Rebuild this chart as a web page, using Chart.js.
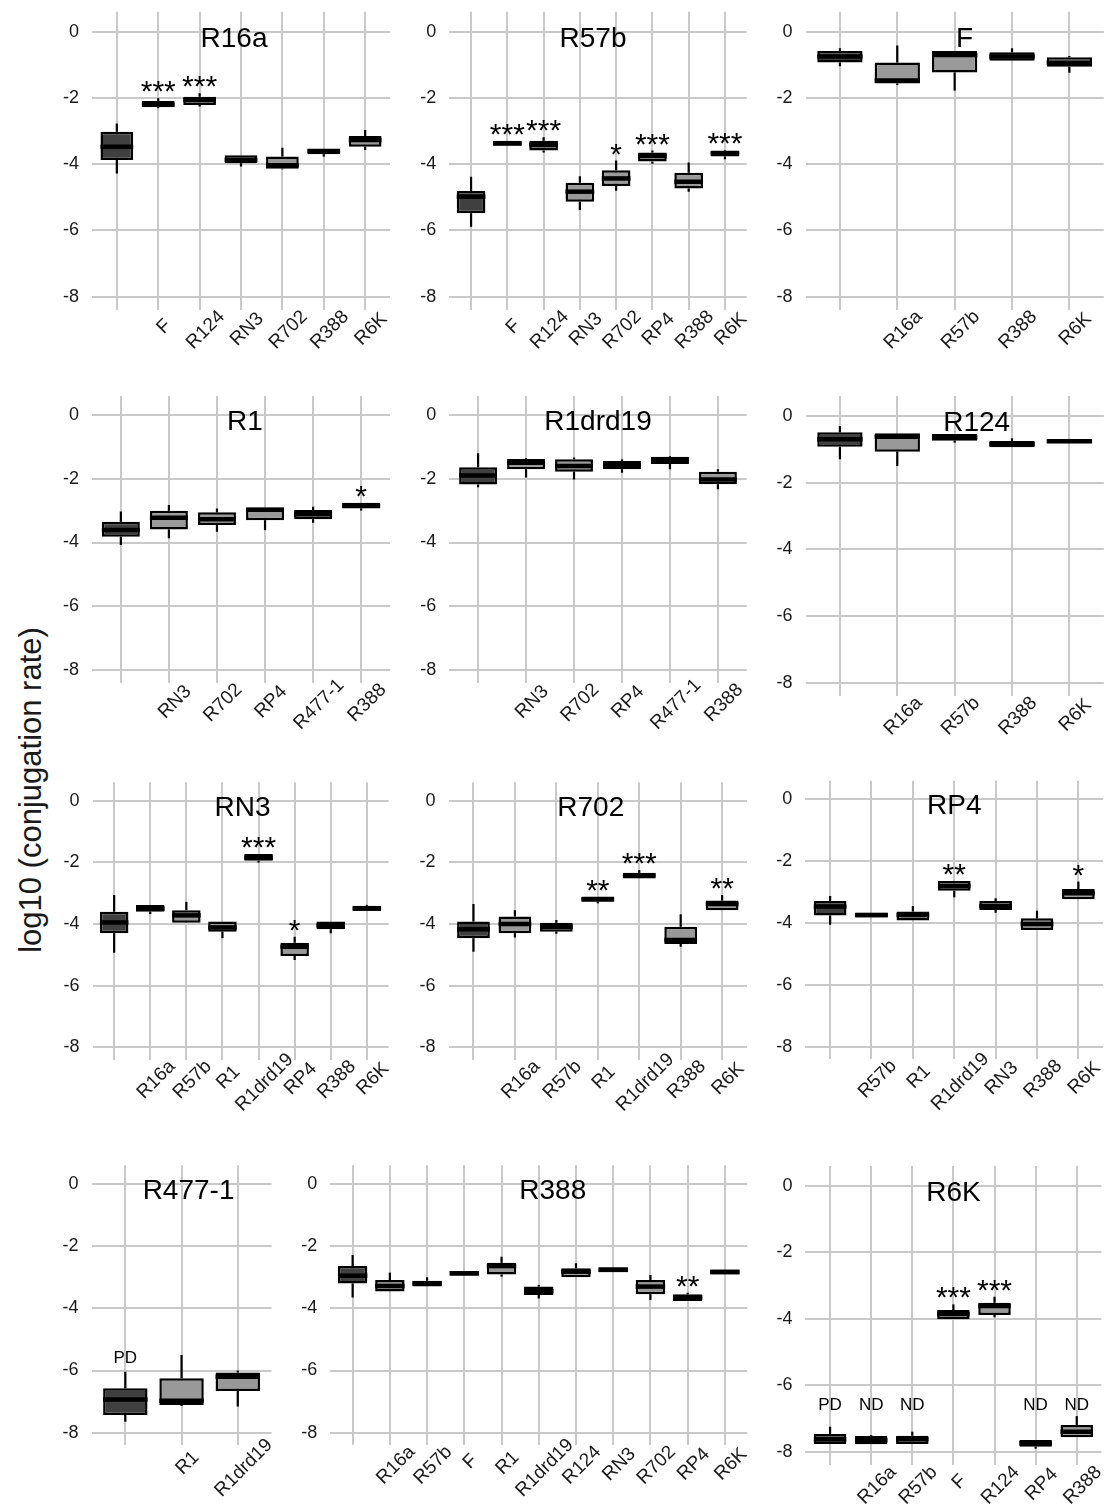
<!DOCTYPE html>
<html><head><meta charset="utf-8">
<script src="https://cdn.jsdelivr.net/npm/chart.js@4.4.1/dist/chart.umd.min.js"></script>
<style>
html,body{margin:0;padding:0;background:#fff;}
#wrap{position:relative;width:1105px;height:1504px;overflow:hidden;font-family:"Liberation Sans",Arial,sans-serif;}
canvas{position:absolute;}
#ylab{position:absolute;left:31px;top:790px;transform:translate(-50%,-50%) rotate(-90deg);font-size:31px;white-space:nowrap;color:#1a1a1a;}
</style></head><body><div id="wrap"><div id="ylab">log10 (conjugation rate)</div></div>
<script>
// ---------- data (log10 conjugation rate: whisker min, Q1, median, Q3, whisker max) ----------
const yTicks = [-8, -6, -4, -2, 0];

const r16aLabels = ["", "F", "R124", "RN3", "R702", "R388", "R6K"];
const r16aMin = [-4.28, -2.31, -2.26, -4.07, -4.15, -3.77, -3.57];
const r16aQ1  = [-3.87, -2.28, -2.21, -3.97, -4.14, -3.70, -3.47];
const r16aMed = [-3.47, -2.20, -2.06, -3.87, -4.03, -3.60, -3.27];
const r16aQ3  = [-3.02, -2.09, -1.96, -3.73, -3.77, -3.55, -3.15];
const r16aMax = [-2.77, -2.01, -1.86, -3.73, -3.50, -3.55, -2.97];
const r16aSig = ["", "***", "***", "", "", "", ""];

const r57bLabels = ["", "F", "R124", "RN3", "R702", "RP4", "R388", "R6K"];
const r57bMin = [-5.89, -3.44, -3.65, -5.38, -4.80, -3.99, -4.83, -3.85];
const r57bQ1  = [-5.48, -3.44, -3.59, -5.13, -4.66, -3.92, -4.73, -3.77];
const r57bMed = [-4.98, -3.37, -3.42, -4.83, -4.43, -3.75, -4.53, -3.67];
const r57bQ3  = [-4.81, -3.29, -3.29, -4.56, -4.18, -3.65, -4.26, -3.59];
const r57bMax = [-4.38, -3.29, -3.19, -4.36, -3.89, -3.59, -3.95, -3.57];
const r57bSig = ["", "***", "***", "", "*", "***", "", "***"];

const fLabels = ["", "R16a", "R57b", "R388", "R6K"];
const fMin = [-1.04, -1.61, -1.78, -0.88, -1.24];
const fQ1  = [-0.93, -1.56, -1.23, -0.88, -1.06];
const fMed = [-0.75, -1.47, -0.70, -0.75, -0.94];
const fQ3  = [-0.58, -0.93, -0.58, -0.62, -0.77];
const fMax = [-0.50, -0.42, -0.58, -0.50, -0.73];
const fSig = ["", "", "", "", ""];

const r1Labels = ["", "RN3", "R702", "RP4", "R477-1", "R388"];
const r1Min = [-4.08, -3.87, -3.66, -3.61, -3.38, -3.00];
const r1Q1  = [-3.82, -3.59, -3.45, -3.30, -3.27, -2.93];
const r1Med = [-3.61, -3.22, -3.27, -2.97, -3.11, -2.85];
const r1Q3  = [-3.35, -3.00, -3.05, -2.90, -2.98, -2.75];
const r1Max = [-3.03, -2.82, -2.93, -2.90, -2.88, -2.75];
const r1Sig = ["", "", "", "", "", "*"];

const r1drd19Labels = ["", "RN3", "R702", "RP4", "R477-1", "R388"];
const r1drd19Min = [-2.27, -1.96, -2.02, -1.81, -1.70, -2.33];
const r1drd19Q1  = [-2.18, -1.70, -1.78, -1.70, -1.54, -2.17];
const r1drd19Med = [-1.90, -1.50, -1.60, -1.57, -1.43, -2.02];
const r1drd19Q3  = [-1.64, -1.38, -1.39, -1.44, -1.31, -1.78];
const r1drd19Max = [-1.20, -1.36, -1.33, -1.39, -1.29, -1.70];
const r1drd19Sig = ["", "", "", "", "", ""];

const r124Labels = ["", "R16a", "R57b", "R388", "R6K"];
const r124Min = [-1.30, -1.50, -0.80, -0.94, -0.82];
const r124Q1  = [-0.92, -1.07, -0.74, -0.94, -0.82];
const r124Med = [-0.70, -0.62, -0.64, -0.85, -0.76];
const r124Q3  = [-0.49, -0.52, -0.54, -0.75, -0.70];
const r124Max = [-0.30, -0.52, -0.54, -0.67, -0.70];
const r124Sig = ["", "", "", "", ""];

const rn3Labels = ["", "R16a", "R57b", "R1", "R1drd19", "RP4", "R388", "R6K"];
const rn3Min = [-4.93, -3.68, -3.96, -4.46, -2.01, -5.17, -4.30, -3.57];
const rn3Q1  = [-4.30, -3.60, -3.96, -4.25, -1.95, -5.04, -4.17, -3.57];
const rn3Med = [-3.95, -3.50, -3.72, -4.11, -1.85, -4.74, -4.05, -3.50];
const rn3Q3  = [-3.60, -3.38, -3.55, -3.92, -1.73, -4.61, -3.92, -3.41];
const rn3Max = [-3.06, -3.38, -3.28, -3.92, -1.73, -4.41, -3.92, -3.38];
const rn3Sig = ["", "", "", "", "***", "*", "", ""];

const r702Labels = ["", "R16a", "R57b", "R1", "R1drd19", "R388", "R6K"];
const r702Min = [-4.90, -4.44, -4.32, -3.33, -2.52, -4.74, -3.55];
const r702Q1  = [-4.46, -4.30, -4.25, -3.28, -2.52, -4.65, -3.55];
const r702Med = [-4.17, -4.00, -4.09, -3.20, -2.43, -4.52, -3.35];
const r702Q3  = [-3.92, -3.76, -3.96, -3.11, -2.34, -4.09, -3.24];
const r702Max = [-3.35, -3.55, -3.87, -3.11, -2.25, -3.68, -3.06];
const r702Sig = ["", "", "", "**", "***", "", "**"];

const rp4Labels = ["", "R57b", "R1", "R1drd19", "RN3", "R388", "R6K"];
const rp4Min = [-4.06, -3.82, -3.92, -3.17, -3.67, -4.23, -3.23];
const rp4Q1  = [-3.76, -3.82, -3.92, -2.96, -3.58, -4.23, -3.23];
const rp4Med = [-3.47, -3.74, -3.74, -2.80, -3.45, -4.03, -3.04];
const rp4Q3  = [-3.29, -3.67, -3.63, -2.64, -3.29, -3.85, -2.90];
const rp4Max = [-3.13, -3.67, -3.45, -2.64, -3.20, -3.60, -2.66];
const rp4Sig = ["", "", "", "**", "", "", "*"];

const r477Labels = ["", "R1", "R1drd19"];
const r477Min = [-7.65, -7.14, -7.16];
const r477Q1  = [-7.43, -7.11, -6.66];
const r477Med = [-6.93, -6.97, -6.20];
const r477Q3  = [-6.57, -6.25, -6.06];
const r477Max = [-6.04, -5.50, -6.00];
const r477Sig = ["", "", ""];
const r477Note = ["PD", "", ""];
const r477NoteY = -5.55;

const r388Labels = ["", "R16a", "R57b", "F", "R1", "R1drd19", "R124", "RN3", "R702", "RP4", "R6K"];
const r388Min = [-3.65, -3.46, -3.30, -2.95, -2.98, -3.68, -3.00, -2.84, -3.73, -3.76, -2.91];
const r388Q1  = [-3.20, -3.46, -3.30, -2.95, -2.91, -3.57, -3.00, -2.84, -3.55, -3.76, -2.91];
const r388Med = [-2.95, -3.28, -3.20, -2.87, -2.64, -3.45, -2.82, -2.76, -3.30, -3.65, -2.83];
const r388Q3  = [-2.64, -3.09, -3.11, -2.80, -2.53, -3.30, -2.71, -2.68, -3.09, -3.55, -2.75];
const r388Max = [-2.28, -2.85, -3.00, -2.80, -2.34, -3.25, -2.55, -2.68, -2.93, -3.50, -2.75];
const r388Sig = ["", "", "", "", "", "", "", "", "", "**", ""];

const r6kLabels = ["", "R16a", "R57b", "F", "R124", "RP4", "R388"];
const r6kMin = [-7.76, -7.77, -7.76, -4.01, -3.95, -7.90, -7.56];
const r6kQ1  = [-7.76, -7.77, -7.76, -4.01, -3.88, -7.84, -7.56];
const r6kMed = [-7.62, -7.65, -7.62, -3.85, -3.61, -7.74, -7.39];
const r6kQ3  = [-7.46, -7.52, -7.51, -3.73, -3.51, -7.64, -7.19];
const r6kMax = [-7.24, -7.49, -7.39, -3.56, -3.33, -7.64, -6.92];
const r6kSig = ["", "", "", "***", "***", "", ""];
const r6kNote = ["PD", "ND", "ND", "", "", "ND", "ND"];
const r6kNoteY = -6.55;

// ---------- panels (built from the arrays above) ----------
const panels = [
  {title:"R16a", labels:r16aLabels, min:r16aMin, q1:r16aQ1, med:r16aMed, q3:r16aQ3, max:r16aMax, sig:r16aSig},
  {title:"R57b", labels:r57bLabels, min:r57bMin, q1:r57bQ1, med:r57bMed, q3:r57bQ3, max:r57bMax, sig:r57bSig},
  {title:"F", labels:fLabels, min:fMin, q1:fQ1, med:fMed, q3:fQ3, max:fMax, sig:fSig},
  {title:"R1", labels:r1Labels, min:r1Min, q1:r1Q1, med:r1Med, q3:r1Q3, max:r1Max, sig:r1Sig},
  {title:"R1drd19", labels:r1drd19Labels, min:r1drd19Min, q1:r1drd19Q1, med:r1drd19Med, q3:r1drd19Q3, max:r1drd19Max, sig:r1drd19Sig},
  {title:"R124", labels:r124Labels, min:r124Min, q1:r124Q1, med:r124Med, q3:r124Q3, max:r124Max, sig:r124Sig},
  {title:"RN3", labels:rn3Labels, min:rn3Min, q1:rn3Q1, med:rn3Med, q3:rn3Q3, max:rn3Max, sig:rn3Sig},
  {title:"R702", labels:r702Labels, min:r702Min, q1:r702Q1, med:r702Med, q3:r702Q3, max:r702Max, sig:r702Sig},
  {title:"RP4", labels:rp4Labels, min:rp4Min, q1:rp4Q1, med:rp4Med, q3:rp4Q3, max:rp4Max, sig:rp4Sig},
  {title:"R477-1", labels:r477Labels, min:r477Min, q1:r477Q1, med:r477Med, q3:r477Q3, max:r477Max, sig:r477Sig, note:r477Note, noteY:r477NoteY},
  {title:"R388", labels:r388Labels, min:r388Min, q1:r388Q1, med:r388Med, q3:r388Q3, max:r388Max, sig:r388Sig},
  {title:"R6K", labels:r6kLabels, min:r6kMin, q1:r6kQ1, med:r6kMed, q3:r6kQ3, max:r6kMax, sig:r6kSig, note:r6kNote, noteY:r6kNoteY}
];

// ---------- layout (page pixels): plot left/right, pixel of y=0 and y=-8, title x shift ----------
const layout = [
  {L:92,    R:390,    y0:31.7,  y8:296.7,  dx:-7},
  {L:449.3, R:746.7,  y0:31.7,  y8:296.7,  dx:-5},
  {L:805.5, R:1103.8, y0:31.7,  y8:296.7,  dx:10},
  {L:92,    R:390,    y0:415,   y8:670,    dx:4},
  {L:449.3, R:746.7,  y0:415,   y8:670,    dx:0},
  {L:805.5, R:1103.8, y0:416,   y8:682.7,  dx:22},
  {L:92.5,  R:388.5,  y0:800.7, y8:1047.3, dx:2},
  {L:448.6, R:747,    y0:800.7, y8:1047.3, dx:-7},
  {L:805.3, R:1103.2, y0:799.3, y8:1046.7, dx:0},
  {L:91.6,  R:271.5,  y0:1184,  y8:1432.7, dx:7},
  {L:330.3, R:747.2,  y0:1184,  y8:1432.7, dx:14},
  {L:805.4, R:1101.4, y0:1186,  y8:1452,   dx:0}
];

const FONT = '"Liberation Sans", Arial, sans-serif';
const GRID = '#c9c9c9';
const YAXW = 60, XAXH = 80, PADTOP = 30;
const wrap = document.getElementById('wrap');

panels.forEach((p, k) => {
  const g = layout[k];
  const unit = (g.y8 - g.y0) / 8;
  const L = g.L, R = g.R, T = g.y0 - 0.6 * unit, B = g.y8 + 0.4 * unit;
  const cl = Math.floor(L - YAXW), ct = Math.floor(T - PADTOP);
  const cw = Math.ceil(R + 6 - cl), ch = Math.ceil(B + XAXH - ct);
  const canvas = document.createElement('canvas');
  canvas.width = cw; canvas.height = ch;
  canvas.style.left = cl + 'px'; canvas.style.top = ct + 'px';
  canvas.style.width = cw + 'px'; canvas.style.height = ch + 'px';
  wrap.appendChild(canvas);
  const n = p.labels.length;

  const boxPlugin = {
    id: 'box' + k,
    beforeDatasetsDraw(chart) {
      const ctx = chart.ctx, xs = chart.scales.x, ys = chart.scales.y;
      ctx.save();
      ctx.strokeStyle = '#000'; ctx.lineWidth = 2.2; ctx.lineCap = 'butt';
      for (let i = 0; i < n; i++) {
        const x = xs.getPixelForValue(i);
        ctx.beginPath();
        ctx.moveTo(x, ys.getPixelForValue(p.q3[i])); ctx.lineTo(x, ys.getPixelForValue(p.max[i]));
        ctx.moveTo(x, ys.getPixelForValue(p.q1[i])); ctx.lineTo(x, ys.getPixelForValue(p.min[i]));
        ctx.stroke();
      }
      ctx.restore();
    },
    afterDatasetsDraw(chart) {
      const ctx = chart.ctx, xs = chart.scales.x, ys = chart.scales.y, ca = chart.chartArea;
      const meta = chart.getDatasetMeta(0);
      ctx.save();
      // medians
      ctx.strokeStyle = '#000'; ctx.lineWidth = 4.5;
      for (let i = 0; i < n; i++) {
        const x = xs.getPixelForValue(i), w = meta.data[i].width;
        const y = ys.getPixelForValue(p.med[i]);
        ctx.beginPath(); ctx.moveTo(x - w / 2, y); ctx.lineTo(x + w / 2, y); ctx.stroke();
      }
      // significance stars
      ctx.fillStyle = '#000'; ctx.textAlign = 'center'; ctx.textBaseline = 'alphabetic';
      ctx.font = '30px ' + FONT;
      for (let i = 0; i < n; i++) {
        if (!p.sig[i]) continue;
        const x = xs.getPixelForValue(i);
        ctx.fillText(p.sig[i], x, ys.getPixelForValue(p.max[i]) + 3);
      }
      // PD / ND notes
      if (p.note) {
        ctx.font = '17px ' + FONT;
        for (let i = 0; i < n; i++) {
          if (!p.note[i]) continue;
          ctx.fillText(p.note[i], xs.getPixelForValue(i), ys.getPixelForValue(p.noteY) + 6);
        }
      }
      // title
      ctx.font = '28px ' + FONT;
      ctx.fillText(p.title, (ca.left + ca.right) / 2 + g.dx, ys.getPixelForValue(0) + 15);
      // rotated category labels
      ctx.font = '19px ' + FONT; ctx.fillStyle = '#1a1a1a';
      ctx.textBaseline = 'middle'; ctx.textAlign = 'center';
      for (let i = 0; i < n; i++) {
        const lab = p.labels[i];
        if (!lab) continue;
        const w = ctx.measureText(lab).width;
        const x = xs.getPixelForValue(i);
        ctx.save();
        ctx.translate(x + 6, ca.bottom + 15.5 + 0.1 * w);
        ctx.rotate(-Math.PI / 4);
        ctx.fillText(lab, 0, 0);
        ctx.restore();
      }
      ctx.restore();
    }
  };

  new Chart(canvas, {
    type: 'bar',
    data: {
      datasets: [{
        data: p.labels.map((_, i) => ({x: i, y: [p.q1[i], p.q3[i]]})),
        backgroundColor: p.labels.map((_, i) => i === 0 ? '#404040' : '#999999'),
        borderColor: '#000', borderWidth: 2.5, borderSkipped: false,
        barPercentage: 0.79, categoryPercentage: 1
      }]
    },
    options: {
      responsive: false, animation: false, devicePixelRatio: 1,
      events: [],
      layout: {padding: {left: (L - YAXW) - cl, top: T - ct, right: (cl + cw) - R, bottom: (ct + ch) - (B + XAXH)}},
      plugins: {legend: {display: false}, tooltip: {enabled: false}, title: {display: false}},
      scales: {
        x: {
          type: 'linear', min: -0.6, max: n - 0.4, offset: false,
          afterBuildTicks: s => { s.ticks = p.labels.map((_, i) => ({value: i})); },
          afterFit: s => { s.height = XAXH; },
          ticks: {display: false},
          grid: {color: GRID, lineWidth: 2, drawTicks: false, offset: false},
          border: {display: false}
        },
        y: {
          type: 'linear', min: -8.4, max: 0.6,
          afterBuildTicks: s => { s.ticks = yTicks.map(v => ({value: v})); },
          afterFit: s => { s.width = YAXW; },
          ticks: {font: {family: FONT, size: 18}, color: '#1a1a1a', padding: 13},
          grid: {color: GRID, lineWidth: 2, drawTicks: false},
          border: {display: false}
        }
      }
    },
    plugins: [boxPlugin]
  });
});
</script></body></html>
